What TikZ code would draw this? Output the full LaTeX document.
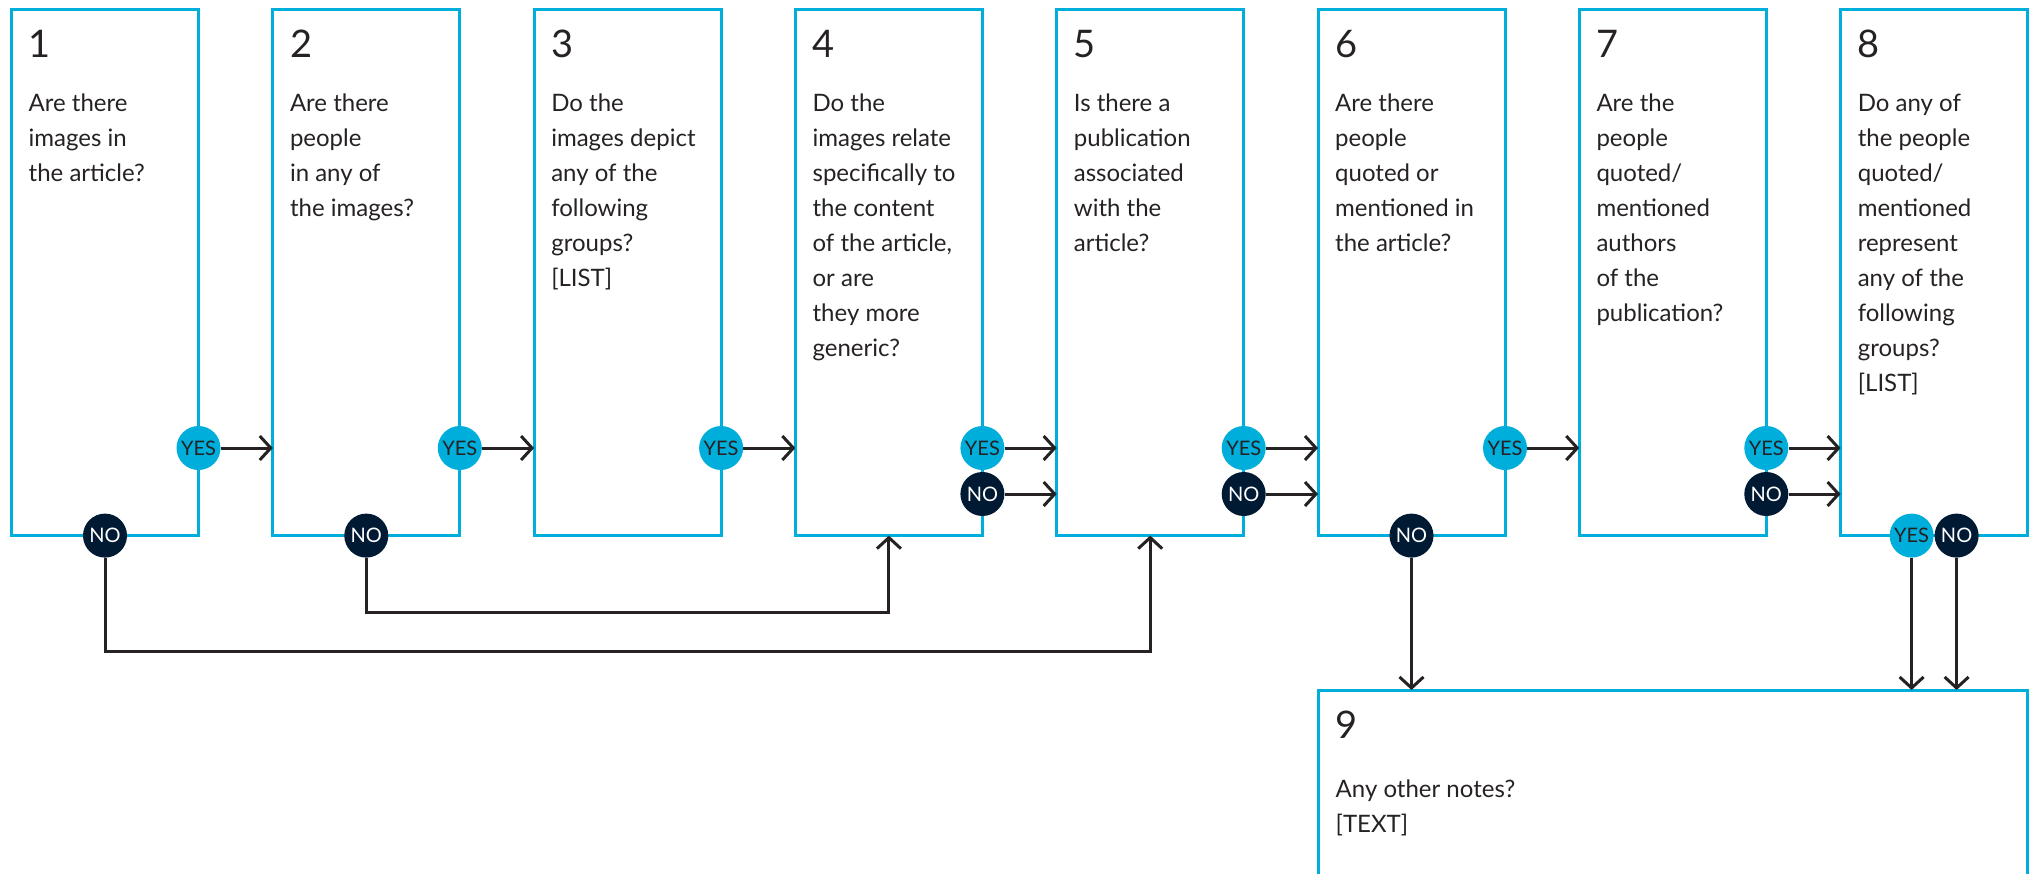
\documentclass[tikz,border=0pt]{standalone}
\usepackage{fontspec}
\setmainfont{Lato}
\usetikzlibrary{arrows.meta}
\definecolor{qblue}{RGB}{0,174,219}
\definecolor{navy}{RGB}{0,26,51}
\definecolor{ink}{RGB}{38,34,35}
\newcommand{\firstline}{\rule{0pt}{19pt}}
\tikzset{
  qbox/.style={draw=qblue, line width=3pt, minimum width=187pt, minimum height=526pt, inner sep=0pt, outer sep=0pt, anchor=north west},
  qnum/.style={anchor=base west, inner sep=0pt, text=ink, font=\fontsize{38}{44}\selectfont},
  qtext/.style={anchor=north west, inner sep=0pt, align=left, text=ink, font=\fontsize{24}{35}\selectfont},
  yes/.style={circle, fill=qblue, text=ink, minimum size=44pt, inner sep=0pt, font=\fontsize{20}{20}\selectfont},
  no/.style={yes, fill=navy, text=white},
  arr/.style={draw=ink, line width=3pt, -{Straight Barb[length=11pt,width=24pt]}},
}

\begin{document}
\begin{tikzpicture}[x=1pt, y=-1pt]
    \useasboundingbox (0,0) rectangle (2035,873);
    \coordinate (yesrow) at (0,448);
    \coordinate (norow) at (0,494);
    \coordinate (low2) at (0,612);
    \coordinate (low1) at (0,651);

    % question boxes
    \foreach \i in {1,...,8}
        \node[qbox] (q\i) at ({11.5+(\i-1)*261.3}, 9.6) {};
    \node[qbox, minimum width=708.5pt, minimum height=300pt] (q9) at (1318.5, 690) {};

    % numbers
    \foreach \i in {1,...,9}
        \node[qnum] (k\i) at ([shift={(17,48)}]q\i.north west) {\i};

    % questions
    \node[qtext] (t1) at ([shift={(17,83)}]q1.north west) {\firstline Are there\\images in\\the article?};
    \node[qtext] (t2) at ([shift={(17,83)}]q2.north west) {\firstline Are there\\people\\in any of\\the images?};
    \node[qtext] (t3) at ([shift={(17,83)}]q3.north west) {\firstline Do the\\images depict\\any of the\\following\\groups?\\{}[LIST]};
    \node[qtext] (t4) at ([shift={(17,83)}]q4.north west) {\firstline Do the\\images relate\\specifically to\\the content\\of the article,\\or are\\they more\\generic?};
    \node[qtext] (t5) at ([shift={(17,83)}]q5.north west) {\firstline Is there a\\publication\\associated\\with the\\article?};
    \node[qtext] (t6) at ([shift={(17,83)}]q6.north west) {\firstline Are there\\people\\quoted or\\mentioned in\\the article?};
    \node[qtext] (t7) at ([shift={(17,83)}]q7.north west) {\firstline Are the\\people\\quoted/\\mentioned\\authors\\of the\\publication?};
    \node[qtext] (t8) at ([shift={(17,83)}]q8.north west) {\firstline Do any of\\the people\\quoted/\\mentioned\\represent\\any of the\\following\\groups?\\{}[LIST]};
    \node[qtext] (t9) at ([shift={(17,88.4)}]q9.north west) {\firstline Any other notes?\\{}[TEXT]};

    % answers
    \foreach \i in {1,...,7}
        \node[yes] (y\i) at (q\i.east |- yesrow) {YES};
    \foreach \i in {4,5,7}
        \node[no] (o\i) at (q\i.east |- norow) {NO};
    \node[no] (o1) at (q1.south) {NO};
    \node[no] (o2) at (q2.south) {NO};
    \node[no] (o6) at (q6.south) {NO};
    \node[yes] (y8) at ([xshift=-22.5pt]q8.south) {YES};
    \node[no] (o8) at ([xshift=22.5pt]q8.south) {NO};

    % arrows
    \draw[arr] (y1) -- (y1 -| q2.west);
    \draw[arr] (y2) -- (y2 -| q3.west);
    \draw[arr] (y3) -- (y3 -| q4.west);
    \draw[arr] (y4) -- (y4 -| q5.west);
    \draw[arr] (y5) -- (y5 -| q6.west);
    \draw[arr] (y6) -- (y6 -| q7.west);
    \draw[arr] (y7) -- (y7 -| q8.west);
    \draw[arr] (o4) -- (o4 -| q5.west);
    \draw[arr] (o5) -- (o5 -| q6.west);
    \draw[arr] (o7) -- (o7 -| q8.west);
    \draw[arr] (o2) |- (q4.south |- low2) -- (q4.south);
    \draw[arr] (o1) |- (q5.south |- low1) -- (q5.south);
    \draw[arr] (o6) -- (o6 |- q9.north);
    \draw[arr] (y8) -- (y8 |- q9.north);
    \draw[arr] (o8) -- (o8 |- q9.north);
\end{tikzpicture}
\end{document}
